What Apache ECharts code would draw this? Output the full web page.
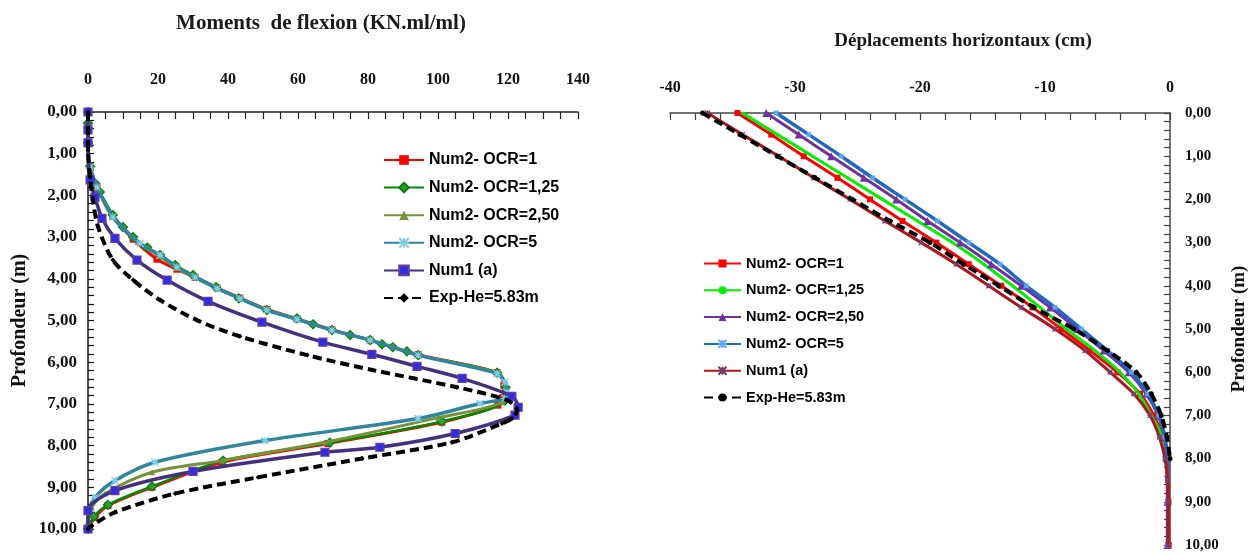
<!DOCTYPE html>
<html>
<head>
<meta charset="utf-8">
<script src="https://cdn.jsdelivr.net/npm/echarts@6/dist/echarts.min.js"></script>
<style>
  html, body { margin: 0; padding: 0; background: #ffffff; }
  #chart { width: 1259px; height: 557px; }
</style>
</head>
<body>
<div id="chart"></div>
<script>
// ---- Bending moments (kN.ml/ml) versus depth (m), pairs [moment, depth] ----
const momentOcr1 = [[0,0],[0,0.74],[0.6,1.3],[2.6,1.8],[7.1,2.5],[12.9,3.05],[19.7,3.53],[25.4,3.77],[30.6,3.97],[36.9,4.22],[43.4,4.46],[51.1,4.73],[59.7,4.96],[69.7,5.22],[80.6,5.47],[94.3,5.82],[116.9,6.25],[118.8,6.55],[118.5,6.85],[117.1,7.03],[101.1,7.44],[68.6,7.95],[38.3,8.4],[18.3,9.0],[5.7,9.44],[2.0,9.72],[0,10]];
const momentOcr125 = [[0,0],[0,0.27],[0,0.74],[0.6,1.3],[2.0,1.71],[3.4,1.92],[7.1,2.47],[10.0,2.76],[12.9,3.0],[16.9,3.25],[20.6,3.43],[24.9,3.67],[30.0,3.91],[36.6,4.2],[43.1,4.47],[51.1,4.75],[59.7,4.95],[64.3,5.09],[69.7,5.23],[74.9,5.35],[80.6,5.47],[84.0,5.57],[87.1,5.64],[91.1,5.74],[94.3,5.83],[116.9,6.25],[119.3,6.6],[119.1,6.92],[101.1,7.42],[69.1,7.93],[38.6,8.36],[18.3,8.98],[5.7,9.42],[1.7,9.7],[0,10]];
const momentOcr250 = [[0,0],[0,0.74],[0.6,1.32],[2.6,1.8],[7.1,2.52],[14.2,3.12],[20.2,3.45],[25.4,3.74],[30.6,3.97],[36.9,4.23],[43.4,4.47],[51.1,4.74],[59.7,4.97],[69.7,5.23],[80.6,5.47],[94.3,5.83],[116.9,6.26],[119.3,6.6],[118.3,6.96],[100.0,7.33],[67.7,7.92],[38.3,8.36],[18.3,8.64],[4.9,9.15],[1.1,9.48],[0,9.8],[0,10]];
const momentOcr5 = [[0,0],[0,0.74],[0.6,1.32],[2.6,1.8],[7.1,2.52],[14.9,3.15],[20.6,3.43],[25.4,3.72],[30.6,3.96],[36.9,4.23],[43.4,4.47],[51.1,4.75],[59.7,4.97],[69.7,5.23],[80.6,5.47],[94.3,5.83],[116.9,6.27],[119.1,6.48],[119.7,6.72],[119.1,6.87],[112.0,6.99],[94.3,7.35],[50.6,7.88],[19.1,8.4],[7.7,8.84],[2.0,9.24],[0.3,9.56],[0,10]];
const momentNum1 = [[0,0],[0,0.43],[0,0.74],[0.6,1.63],[2.0,2.04],[4.0,2.55],[7.7,3.03],[14.0,3.55],[22.6,4.03],[34.3,4.54],[49.7,5.04],[67.1,5.52],[81.1,5.81],[94.0,6.1],[106.9,6.39],[121.1,6.82],[122.9,7.08],[122.0,7.27],[104.9,7.71],[83.4,8.04],[67.7,8.16],[30.0,8.62],[7.7,9.08],[0,9.56],[0,10]];
const momentExp = [[0,0],[0,0.91],[0.6,1.56],[1.4,2.11],[2.9,2.76],[7.1,3.55],[12.9,4.03],[20.6,4.51],[31.1,4.99],[43.4,5.38],[62.6,5.83],[81.4,6.19],[105.4,6.6],[119.7,6.91],[122.6,7.15],[121.1,7.35],[118.3,7.47],[104.0,7.92],[78.3,8.31],[48.6,8.76],[24.9,9.15],[7.7,9.6],[1.1,9.92],[0,10]];

// ---- Horizontal displacements (cm) versus depth (m), pairs [displacement, depth] ----
const dispOcr1 = [[-34.6,0],[-31.9,0.5],[-29.3,1],[-26.6,1.5],[-24.0,2],[-21.4,2.5],[-18.7,3],[-16.1,3.5],[-13.5,4],[-11.0,4.5],[-8.7,5],[-6.4,5.5],[-4.2,6],[-2.4,6.5],[-1.3,7],[-0.55,7.5],[-0.2,8],[-0.12,9],[-0.1,10]];
const dispOcr125 = [[-34.2,0],[-31.4,0.5],[-28.6,1],[-25.8,1.5],[-23.0,2],[-20.2,2.5],[-17.4,3],[-14.9,3.5],[-12.6,4],[-10.4,4.5],[-8.3,5],[-6.0,5.5],[-4.0,6],[-2.5,6.5],[-1.5,7],[-0.6,7.5],[-0.25,8],[-0.2,9],[-0.2,10]];
const dispOcr250 = [[-32.3,0],[-29.7,0.5],[-27.1,1],[-24.5,1.5],[-21.9,2],[-19.4,2.5],[-16.8,3],[-14.3,3.5],[-11.9,4],[-9.6,4.5],[-7.4,5],[-5.3,5.5],[-3.3,6],[-1.9,6.5],[-0.95,7],[-0.45,7.5],[-0.25,8],[-0.2,9],[-0.2,10]];
const dispOcr5 = [[-31.5,0],[-28.9,0.5],[-26.3,1],[-23.8,1.5],[-21.2,2],[-18.6,2.5],[-16.1,3],[-13.6,3.5],[-11.5,4],[-9.2,4.5],[-7.1,5],[-5.0,5.5],[-3.1,6],[-1.8,6.5],[-0.9,7],[-0.4,7.5],[-0.22,8],[-0.2,9],[-0.2,10]];
const dispNum1 = [[-37.0,0],[-34.2,0.5],[-31.3,1],[-28.5,1.5],[-25.6,2],[-22.8,2.5],[-19.9,3],[-17.1,3.5],[-14.5,4],[-11.9,4.5],[-9.2,5],[-6.8,5.5],[-4.8,6],[-2.9,6.5],[-1.6,7],[-0.85,7.5],[-0.4,8],[-0.2,8.5],[-0.16,9],[-0.16,10]];
const dispExp = [[-37.4,0],[-34.4,0.5],[-31.4,1],[-28.4,1.5],[-25.4,2],[-22.4,2.5],[-19.2,3],[-16.5,3.5],[-13.7,4],[-10.9,4.5],[-7.7,5],[-5.0,5.5],[-2.7,6],[-1.5,6.5],[-0.7,7],[-0.25,7.5],[0,8]];

// ---- Labels ----
const seriesNames = ['Num2- OCR=1', 'Num2- OCR=1,25', 'Num2- OCR=2,50', 'Num2- OCR=5', 'Num1 (a)', 'Exp-He=5.83m'];
const titleMoments = 'Moments  de flexion (KN.ml/ml)';
const titleDisp = 'Déplacements horizontaux (cm)';
const depthName = 'Profondeur (m)';

// Displacement series carry a hidden tag so each legend picks its own series.
const TAG = '#d';
const dispNames = seriesNames.map(n => n + TAG);

const serif = "'Liberation Serif', 'Times New Roman', serif";
const sans = "'Liberation Sans', Arial, sans-serif";
const asterisk = 'path://M0,0L10,10M10,0L0,10M5,0L5,10M0,5L10,5';
const fmtDepth = v => v.toFixed(2).replace('.', ',');

function line(name, data, xi, color, width, symbol, size, fill, border, dash, z) {
  return {
    type: 'line', name, data, xAxisIndex: xi, yAxisIndex: xi,
    smooth: 0.3, clip: false, z: z,
    symbol, symbolSize: size, showSymbol: true,
    lineStyle: { color, width, type: dash || 'solid' },
    itemStyle: { color: fill || color, borderColor: border || fill || color, borderWidth: border ? 1.2 : 0 },
    emphasis: { disabled: true }
  };
}

const chart = echarts.init(document.getElementById('chart'), null, { renderer: 'canvas' });

const axisLine = c => ({ show: true, onZero: false, lineStyle: { color: c, width: 1.5 } });

chart.setOption({
  animation: false,
  backgroundColor: '#ffffff',
  title: [
    { text: titleMoments, left: 316, top: 8, textAlign: 'center',
      textStyle: { fontFamily: serif, fontWeight: 'bold', fontSize: 21, color: '#1a1a1a' } },
    { text: titleDisp, left: 958, top: 27, textAlign: 'center',
      textStyle: { fontFamily: serif, fontWeight: 'bold', fontSize: 19, color: '#1a1a1a' } }
  ],
  legend: [
    { data: seriesNames, orient: 'vertical', left: 378, top: 147,
      itemWidth: 40, itemHeight: 12, itemGap: 11.6, selectedMode: false,
      textStyle: { fontFamily: sans, fontWeight: 'bold', fontSize: 16, color: '#000' } },
    { data: dispNames, orient: 'vertical', left: 698, top: 251,
      itemWidth: 37, itemHeight: 10, itemGap: 11.8, selectedMode: false,
      formatter: n => n.replace(TAG, ''),
      textStyle: { fontFamily: sans, fontWeight: 'bold', fontSize: 14.5, color: '#000' } }
  ],
  grid: [
    { left: 88, top: 112, width: 490, height: 417, containLabel: false },
    { left: 670, top: 113, width: 500, height: 432, containLabel: false }
  ],
  xAxis: [
    { type: 'value', gridIndex: 0, position: 'top', min: 0, max: 140, interval: 20,
      axisLine: axisLine('#222'),
      axisTick: { show: true, inside: true, length: 7, lineStyle: { color: '#222', width: 1.2 } },
      minorTick: { show: true, splitNumber: 4, length: 7, lineStyle: { color: '#222', width: 1.2 } },
      splitLine: { show: false },
      axisLabel: { margin: 24, fontFamily: serif, fontWeight: 'bold', fontSize: 16, color: '#111' } },
    { type: 'value', gridIndex: 1, position: 'top', min: -40, max: 0, interval: 10,
      axisLine: axisLine('#444'),
      axisTick: { show: true, inside: true, length: 7, lineStyle: { color: '#444', width: 1.2 } },
      minorTick: { show: true, splitNumber: 5, length: 7, lineStyle: { color: '#444', width: 1.2 } },
      splitLine: { show: false },
      axisLabel: { margin: 17, fontFamily: serif, fontWeight: 'bold', fontSize: 16, color: '#111' } }
  ],
  yAxis: [
    { type: 'value', gridIndex: 0, position: 'left', inverse: true, min: 0, max: 10, interval: 1,
      name: depthName, nameLocation: 'middle', nameGap: 58, nameRotate: 90,
      nameTextStyle: { fontFamily: serif, fontWeight: 'bold', fontSize: 20, color: '#111' },
      axisLine: axisLine('#111'),
      axisTick: { show: true, inside: true, length: 6, lineStyle: { color: '#111', width: 1.2 } },
      minorTick: { show: true, splitNumber: 5, length: 6, lineStyle: { color: '#111', width: 1.2 } },
      splitLine: { show: false },
      axisLabel: { margin: 11, formatter: fmtDepth, fontFamily: serif, fontWeight: 'bold', fontSize: 17, color: '#111' } },
    { type: 'value', gridIndex: 1, position: 'right', inverse: true, min: 0, max: 10, interval: 1,
      name: depthName, nameLocation: 'middle', nameGap: 60, nameRotate: 90,
      nameTextStyle: { fontFamily: serif, fontWeight: 'bold', fontSize: 19, color: '#111' },
      axisLine: axisLine('#444'),
      axisTick: { show: true, inside: true, length: 6, lineStyle: { color: '#444', width: 1.2 } },
      minorTick: { show: true, splitNumber: 5, length: 6, lineStyle: { color: '#444', width: 1.2 } },
      splitLine: { show: false },
      axisLabel: { margin: 15, formatter: fmtDepth, fontFamily: serif, fontWeight: 'bold', fontSize: 15, color: '#111' } }
  ],
  series: [
    // bending moments
    line(seriesNames[0], momentOcr1, 0, '#ff0000', 3, 'rect', 7, '#ff0000', null, null, 2),
    line(seriesNames[1], momentOcr125, 0, '#008a00', 2.5, 'diamond', 9, '#21a32c', '#0b7a12', null, 3),
    line(seriesNames[2], momentOcr250, 0, '#76923c', 3, 'triangle', 6, '#76923c', null, null, 4),
    line(seriesNames[3], momentOcr5, 0, '#31859c', 3.5, asterisk, 7, '#31859c', '#7fd0e6', null, 5),
    line(seriesNames[4], momentNum1, 0, '#45307f', 3.5, 'rect', 8, '#2f2fe0', '#6a3d9a', null, 6),
    line(seriesNames[5], momentExp, 0, '#000000', 4, 'diamond', 5, '#000000', null, [9, 5], 7),
    // horizontal displacements
    line(dispNames[0], dispOcr1, 1, '#ff0000', 3, 'rect', 6, '#ff0000', null, null, 2),
    line(dispNames[1], dispOcr125, 1, '#00f000', 3, 'circle', 3, '#00f000', null, null, 3),
    line(dispNames[2], dispOcr250, 1, '#7030a0', 3, 'triangle', 8, '#7030a0', null, null, 4),
    line(dispNames[3], dispOcr5, 1, '#1f67c4', 3.5, asterisk, 5, '#1f67c4', '#5fa8f0', null, 5),
    line(dispNames[4], dispNum1, 1, '#b0141c', 3, asterisk, 5, '#b0141c', '#7a3a6a', null, 6),
    line(dispNames[5], dispExp, 1, '#000000', 4, 'circle', 5, '#000000', null, [9, 5], 7)
  ]
});
</script>
</body>
</html>
